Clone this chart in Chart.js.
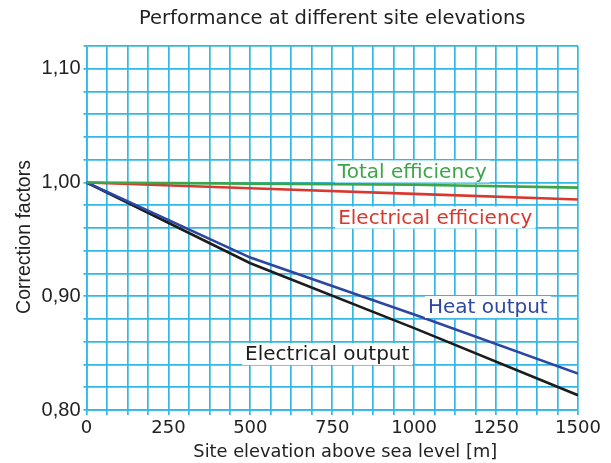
<!DOCTYPE html>
<html>
<head>
<meta charset="utf-8">
<script src="https://cdn.jsdelivr.net/npm/chart.js@4/dist/chart.umd.min.js"></script>
<style>
  html, body { margin: 0; padding: 0; background: #ffffff; }
  #wrap { width: 611px; height: 463px; }
</style>
</head>
<body>
<div id="wrap"><canvas id="c" width="611" height="463"></canvas></div>
<script>
// ---- data ----
const elevations = [0, 500, 1000, 1500];
const totalEfficiency = [1.000, 0.999, 0.998, 0.9955];
const electricalEfficiency = [1.000, 0.995, 0.990, 0.985];
const heatOutput = [1.000, 0.934, 0.884, 0.832];
const electricalOutput = [1.000, 0.929, 0.872, 0.813];
const seriesNames = ['Total efficiency', 'Electrical efficiency', 'Heat output', 'Electrical output'];
const xLabelValues = [0, 250, 500, 750, 1000, 1250, 1500];
const yLabelValues = [0.80, 0.90, 1.00, 1.10];
const chartTitle = 'Performance at different site elevations';
const xTitle = 'Site elevation above sea level [m]';
const yTitle = 'Correction factors';

// ---- styling ----
const colors = ['#3aa648', '#d8382d', '#2d47a0', '#1c1c1c'];
const gridColor = '#33b8e5';
// label anchors (left edge, vertical centre) in data units
const labelAnchors = [
  { x: 767, y: 1.0097 },
  { x: 768, y: 0.9692 },
  { x: 1042, y: 0.8905 },
  { x: 484, y: 0.8492 }
];

const toPts = (arr) => elevations.map((x, i) => ({ x: x, y: arr[i] }));
const seriesData = [totalEfficiency, electricalEfficiency, heatOutput, electricalOutput];

const datasets = seriesData.map((arr, i) => ({
  label: seriesNames[i],
  data: toPts(arr),
  borderColor: colors[i],
  backgroundColor: colors[i],
  borderWidth: 2.6,
  pointRadius: 0,
  tension: 0,
  fill: false
}));

const textPlugin = {
  id: 'textPlugin',
  afterDatasetsDraw(chart) {
    const ctx = chart.ctx;
    const xs = chart.scales.x, ys = chart.scales.y;
    const ca = chart.chartArea;
    ctx.save();
    ctx.font = '20px "DejaVu Sans"';
    ctx.textBaseline = 'middle';
    ctx.textAlign = 'left';
    labelAnchors.forEach((a, i) => {
      const px = xs.getPixelForValue(a.x);
      const py = ys.getPixelForValue(a.y);
      const w = ctx.measureText(seriesNames[i]).width;
      ctx.fillStyle = '#ffffff';
      ctx.fillRect(px - 3, py - 11, w + 6, 22);
      ctx.fillStyle = colors[i];
      ctx.fillText(seriesNames[i], px, py + 1);
    });
    ctx.fillStyle = '#222222';
    ctx.textAlign = 'center';
    // chart title
    ctx.font = '19.5px "DejaVu Sans"';
    ctx.fillText(chartTitle, (ca.left + ca.right) / 2, 19);
    // x axis title
    ctx.font = '17.8px "DejaVu Sans"';
    ctx.fillText(xTitle, (ca.left + ca.right) / 2 + 13, 452);
    // y axis title
    ctx.font = '19.5px "Liberation Sans"';
    ctx.translate(25, (ca.top + ca.bottom) / 2 + 9);
    ctx.rotate(-Math.PI / 2);
    ctx.fillText(yTitle, 0, 0);
    ctx.restore();
  }
};

new Chart(document.getElementById('c'), {
  type: 'line',
  data: { datasets: datasets },
  plugins: [textPlugin],
  options: {
    responsive: false,
    animation: false,
    layout: { padding: { top: 46, right: 33, left: 0, bottom: 0 } },
    plugins: {
      legend: { display: false },
      title: { display: false },
      tooltip: { enabled: false }
    },
    scales: {
      x: {
        type: 'linear',
        min: 0,
        max: 1500,
        afterFit(s) { s.height = 53; },
        grid: { color: gridColor, lineWidth: 1.7, tickLength: 5, tickColor: gridColor },
        border: { color: gridColor, width: 1.7 },
        ticks: {
          stepSize: 62.5,
          autoSkip: false,
          maxRotation: 0,
          padding: 3,
          color: '#222222',
          font: { family: 'DejaVu Sans', size: 18 },
          callback: (v) => xLabelValues.includes(v) ? String(v) : ''
        },
        title: { display: false }
      },
      y: {
        type: 'linear',
        min: 0.80,
        max: 1.12,
        afterFit(s) { s.width = 86.5; },
        grid: { color: gridColor, lineWidth: 1.7, tickLength: 3, tickColor: gridColor },
        border: { color: gridColor, width: 1.7 },
        ticks: {
          stepSize: 0.02,
          autoSkip: false,
          padding: 3,
          color: '#222222',
          font: { family: 'Liberation Sans', size: 20 },
          callback: (v) => {
            const hit = yLabelValues.find(t => Math.abs(t - v) < 1e-6);
            return hit !== undefined ? hit.toFixed(2).replace('.', ',') : '';
          }
        },
        title: { display: false }
      }
    }
  }
});
</script>
</body>
</html>
